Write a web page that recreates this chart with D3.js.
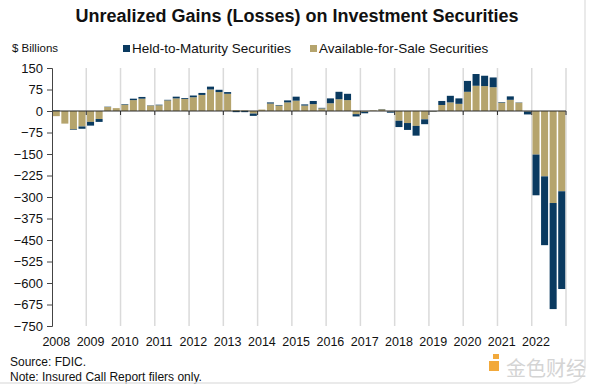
<!DOCTYPE html>
<html>
<head>
<meta charset="utf-8">
<script src="https://cdn.jsdelivr.net/npm/d3@7"></script>
<style>
  body { margin: 0; background: #fff; }
  svg { display: block; font-family: "Liberation Sans", Arial, sans-serif; }
</style>
</head>
<body>
<svg id="chart" width="600" height="385"></svg>
<script>
// Quarterly data, $ billions, 2008Q1 - 2022Q4
const years = [2008, 2009, 2010, 2011, 2012, 2013, 2014, 2015, 2016, 2017, 2018, 2019, 2020, 2021, 2022];
const quarterNames = ["Q1", "Q2", "Q3", "Q4"];

const afsValues = [
  -18, -44, -64, -54,   // 2008
  -38, -28, 14, 10,     // 2009
  22, 38, 43, 19,       // 2010
  20, 37, 44, 42,       // 2011
  48, 56, 75, 66,       // 2012
  60, 3, 2, -9,         // 2013
  5, 26, 19, 30,        // 2014
  36, 19, 24, 9,        // 2015
  27, 41, 38, -11,      // 2016
  -3, 2, 6, -2,         // 2017
  -34, -42, -52, -29,   // 2018
  -2, 21, 30, 25,       // 2019
  67, 88, 87, 83,       // 2020
  29, 39, 29, -2,       // 2021
  -152, -228, -321, -280 // 2022
];
const htmValues = [
  2, 0, -2, -8,
  -13, -10, 1, 0,
  2, 5, 6, 1,
  2, 2, 6, 3,
  6, 7, 10, 8,
  6, -4, -4, -8,
  0, 4, 2, 7,
  14, 4, 11, 2,
  17, 26, 22, -8,
  -5, 0, 1, -4,
  -22, -24, -34, -17,
  -1, 14, 23, 19,
  38, 41, 36, 34,
  2, 12, 1, -10,
  -142, -240, -370, -341
];
const yTicks = [150, 75, 0, -75, -150, -225, -300, -375, -450, -525, -600, -675, -750];

const seriesNames = ["Held-to-Maturity Securities", "Available-for-Sale Securities"];
const colors = { htm: "#0a3a60", afs: "#b5a46d" };

// build rows
const quarters = [];
years.forEach(y => quarterNames.forEach(q => quarters.push(y + q)));
const rows = quarters.map((q, i) => ({ q: q, afs: afsValues[i], htm: htmValues[i] }));

const svg = d3.select("#chart");

const x = d3.scaleBand().domain(quarters).range([52, 566]).paddingInner(0.18).paddingOuter(0.09);
const y = d3.scaleLinear().domain([-750, 150]).range([326, 68]);

// year gridlines
const yearStep = (566 - 52) / years.length;
svg.append("g")
  .selectAll("line")
  .data(years)
  .join("line")
  .attr("x1", (d, i) => 52 + (i + 1) * yearStep)
  .attr("x2", (d, i) => 52 + (i + 1) * yearStep)
  .attr("y1", 68)
  .attr("y2", 326)
  .attr("stroke", "#dadada")
  .attr("stroke-width", 1.5);

// stacked bars
const stack = d3.stack().keys(["afs", "htm"]).offset(d3.stackOffsetDiverging);
const series = stack(rows);

svg.append("g")
  .selectAll("g")
  .data(series)
  .join("g")
  .attr("fill", d => colors[d.key])
  .selectAll("rect")
  .data(d => d)
  .join("rect")
  .attr("x", d => x(d.data.q))
  .attr("width", x.bandwidth())
  .attr("y", d => y(Math.max(d[0], d[1])))
  .attr("height", d => Math.abs(y(d[0]) - y(d[1])));

// zero axis with year tick marks
svg.append("line")
  .attr("x1", 52).attr("x2", 566)
  .attr("y1", y(0)).attr("y2", y(0))
  .attr("stroke", "#2b2b2b").attr("stroke-width", 1.2);
svg.append("g")
  .selectAll("line")
  .data(years)
  .join("line")
  .attr("x1", (d, i) => 52 + (i + 1) * yearStep)
  .attr("x2", (d, i) => 52 + (i + 1) * yearStep)
  .attr("y1", y(0))
  .attr("y2", y(0) + 4)
  .attr("stroke", "#2b2b2b");

// y axis
const yAxis = svg.append("g")
  .attr("transform", "translate(52,0)")
  .call(d3.axisLeft(y).tickValues(yTicks).tickSize(5).tickSizeOuter(5).tickPadding(4));
yAxis.select(".domain").attr("stroke", "#444");
yAxis.selectAll(".tick line").attr("stroke", "#444");
yAxis.selectAll(".tick text")
  .attr("font-size", 13)
  .attr("fill", "#111")
  .attr("font-family", "'Liberation Sans', Arial, sans-serif");

// x labels: one per year, centred on the Q1 bar
const xAxis = svg.append("g")
  .attr("transform", "translate(0,326)")
  .call(d3.axisBottom(x)
    .tickValues(years.map(yr => yr + "Q1"))
    .tickFormat(d => d.slice(0, 4))
    .tickSize(0)
    .tickPadding(11));
xAxis.select(".domain").remove();
xAxis.selectAll(".tick text")
  .attr("font-size", 12.5)
  .attr("fill", "#111")
  .attr("font-family", "'Liberation Sans', Arial, sans-serif");

// title
svg.append("text")
  .attr("x", 297)
  .attr("y", 22)
  .attr("text-anchor", "middle")
  .attr("font-size", 18)
  .attr("font-weight", "bold")
  .attr("fill", "#111")
  .text("Unrealized Gains (Losses) on Investment Securities");

svg.append("text")
  .attr("x", 12)
  .attr("y", 52)
  .attr("font-size", 11.5)
  .attr("fill", "#111")
  .text("$ Billions");

// legend
const legend = [
  { name: seriesNames[0], color: colors.htm, x: 123 },
  { name: seriesNames[1], color: colors.afs, x: 310 }
];
const lg = svg.append("g").selectAll("g").data(legend).join("g")
  .attr("transform", d => `translate(${d.x},45)`);
lg.append("rect").attr("width", 7).attr("height", 7).attr("fill", d => d.color);
lg.append("text")
  .attr("x", 9)
  .attr("y", 7.5)
  .attr("font-size", 13.5)
  .attr("fill", "#111")
  .text(d => d.name);

// footnotes
svg.append("text").attr("x", 10).attr("y", 366).attr("font-size", 12).attr("fill", "#111")
  .text("Source: FDIC.");
svg.append("text").attr("x", 10).attr("y", 381).attr("font-size", 12).attr("fill", "#111")
  .text("Note: Insured Call Report filers only.");

// frame of the screenshot
svg.append("rect")
  .attr("x", -20).attr("y", -20)
  .attr("width", 605).attr("height", 403)
  .attr("rx", 16)
  .attr("fill", "none")
  .attr("stroke", "#e3e3e3")
  .attr("stroke-width", 1.5);

// watermark
svg.append("rect").attr("x", 489).attr("y", 361).attr("width", 10).attr("height", 10).attr("fill", "#f2a93b");
svg.append("rect").attr("x", 493).attr("y", 354).attr("width", 6).attr("height", 5).attr("fill", "#f2a93b");
svg.append("text")
  .attr("x", 506).attr("y", 376)
  .attr("font-size", 20)
  .attr("font-family", "'Noto Sans CJK SC', sans-serif")
  .attr("fill", "#d4d4d4")
  .text("金色财经");
</script>
</body>
</html>
